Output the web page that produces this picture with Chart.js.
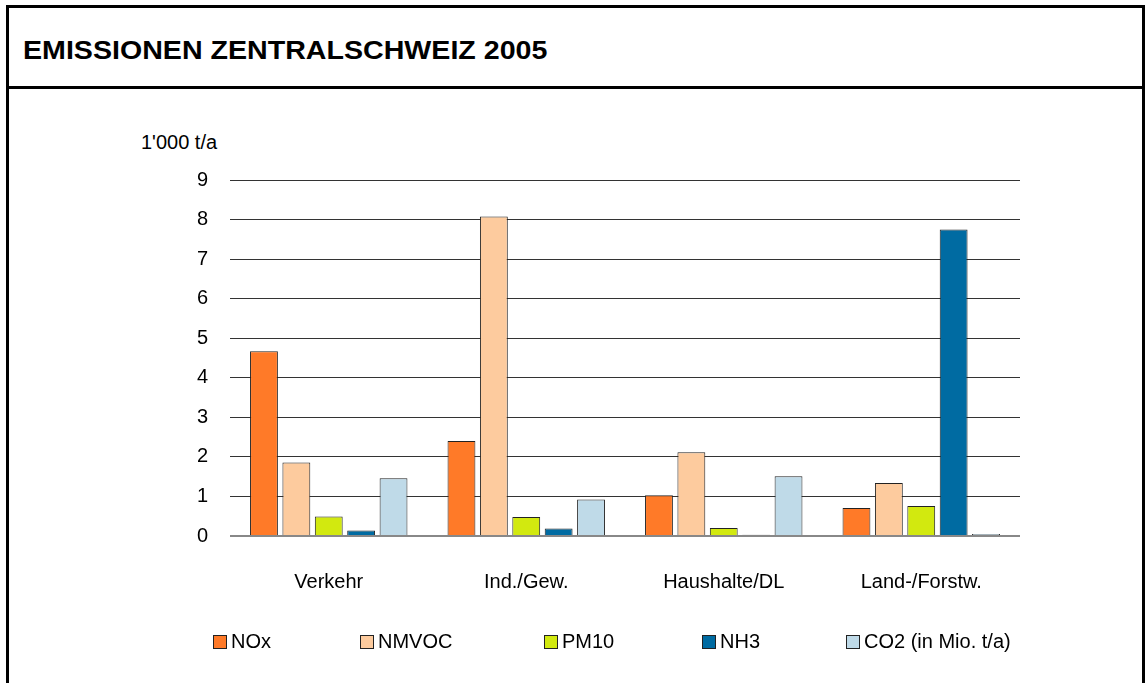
<!DOCTYPE html>
<html>
<head>
<meta charset="utf-8">
<title>Emissionen Zentralschweiz 2005</title>
<script src="https://cdn.jsdelivr.net/npm/chart.js@4.4.1/dist/chart.umd.min.js"></script>
<style>
	html, body {
		margin: 0;
		padding: 0;
		background: #fff;
		font-family: "Liberation Sans", Arial, sans-serif;
	}
	.frame {
		position: absolute;
		left: 6px;
		top: 5px;
		width: 1133px;
		height: 700px;
		border: 3px solid #000;
		border-bottom: none;
	}
	.frame-sep {
		position: absolute;
		left: 6px;
		top: 86px;
		width: 1139px;
		height: 3px;
		background: #000;
	}
	.frame-title {
		position: absolute;
		left: 23px;
		top: 35px;
		font-size: 26px;
		font-weight: bold;
		color: #000;
		white-space: nowrap;
		transform: scaleX(1.1);
		transform-origin: left center;
	}
	.unit {
		position: absolute;
		left: 141px;
		top: 131px;
		font-size: 20px;
		color: #000;
	}
	.chart-wrap {
		position: absolute;
		left: 0;
		top: 0;
		width: 1146px;
		height: 683px;
	}
	.legend-item {
		position: absolute;
		top: 630px;
		font-size: 20px;
		line-height: 22px;
		color: #000;
		white-space: nowrap;
	}
	.legend-box {
		display: inline-block;
		width: 12px;
		height: 12px;
		border: 1px solid #222;
		margin-right: 4px;
		vertical-align: -1px;
	}
</style>
</head>
<body>
<div class="frame"></div>
<div class="frame-sep"></div>
<div class="frame-title">EMISSIONEN ZENTRALSCHWEIZ 2005</div>
<div class="unit">1'000 t/a</div>
<div class="chart-wrap"><canvas id="chart" width="1146" height="683"></canvas></div>
<div id="legend"></div>

<script>
var categories = ['Verkehr', 'Ind./Gew.', 'Haushalte/DL', 'Land-/Forstw.'];
var seriesNames = ['NOx', 'NMVOC', 'PM10', 'NH3', 'CO2 (in Mio. t/a)'];
var seriesColors = ['#FF7A28', '#FDCB9E', '#D2E90F', '#006BA2', '#BFDAE8'];

var nox = [4.67, 2.40, 1.03, 0.71];
var nmvoc = [1.86, 8.08, 2.12, 1.34];
var pm10 = [0.49, 0.48, 0.20, 0.76];
var nh3 = [0.14, 0.19, 0.03, 7.75];
var co2 = [1.46, 0.92, 1.51, 0.05];

var yTicks = [0, 1, 2, 3, 4, 5, 6, 7, 8, 9];

// legend positions (left edge of each box)
var legendLeft = [213, 360, 544, 702, 846];

var seriesValues = [nox, nmvoc, pm10, nh3, co2];

var datasets = seriesNames.map(function (name, i) {
	return {
		label: name,
		data: seriesValues[i],
		backgroundColor: seriesColors[i],
		borderColor: '#222',
		borderWidth: 1,
		categoryPercentage: 0.82,
		barPercentage: 0.86
	};
});

Chart.defaults.font.family = '"Liberation Sans", Arial, sans-serif';
Chart.defaults.color = '#000';

new Chart(document.getElementById('chart'), {
	type: 'bar',
	data: {
		labels: categories,
		datasets: datasets
	},
	options: {
		responsive: false,
		animation: false,
		layout: {
			padding: {left: 160, right: 126, top: 180, bottom: 87}
		},
		scales: {
			y: {
				min: 0,
				max: 9,
				afterFit: function (scale) {
					scale.width = 70;
				},
				afterBuildTicks: function (scale) {
					scale.ticks = yTicks.map(function (v) { return {value: v}; });
				},
				grid: {
					color: function (ctx) {
						return ctx.tick && ctx.tick.value === 0 ? '#888' : '#333';
					},
					lineWidth: function (ctx) {
						return ctx.tick && ctx.tick.value === 0 ? 2 : 1;
					},
					drawTicks: false
				},
				border: {
					display: false
				},
				ticks: {
					padding: 22,
					font: {size: 20}
				}
			},
			x: {
				afterFit: function (scale) {
					scale.height = 60;
				},
				grid: {
					display: false
				},
				border: {
					display: false
				},
				ticks: {
					padding: 26,
					font: {size: 20}
				}
			}
		},
		plugins: {
			legend: {
				display: false
			},
			tooltip: {
				enabled: false
			}
		}
	}
});

// html legend
var legend = document.getElementById('legend');
seriesNames.forEach(function (name, i) {
	var item = document.createElement('div');
	item.className = 'legend-item';
	item.style.left = legendLeft[i] + 'px';
	item.innerHTML = '<span class="legend-box" style="background:' + seriesColors[i] + '"></span>' + name;
	legend.appendChild(item);
});
</script>
</body>
</html>
